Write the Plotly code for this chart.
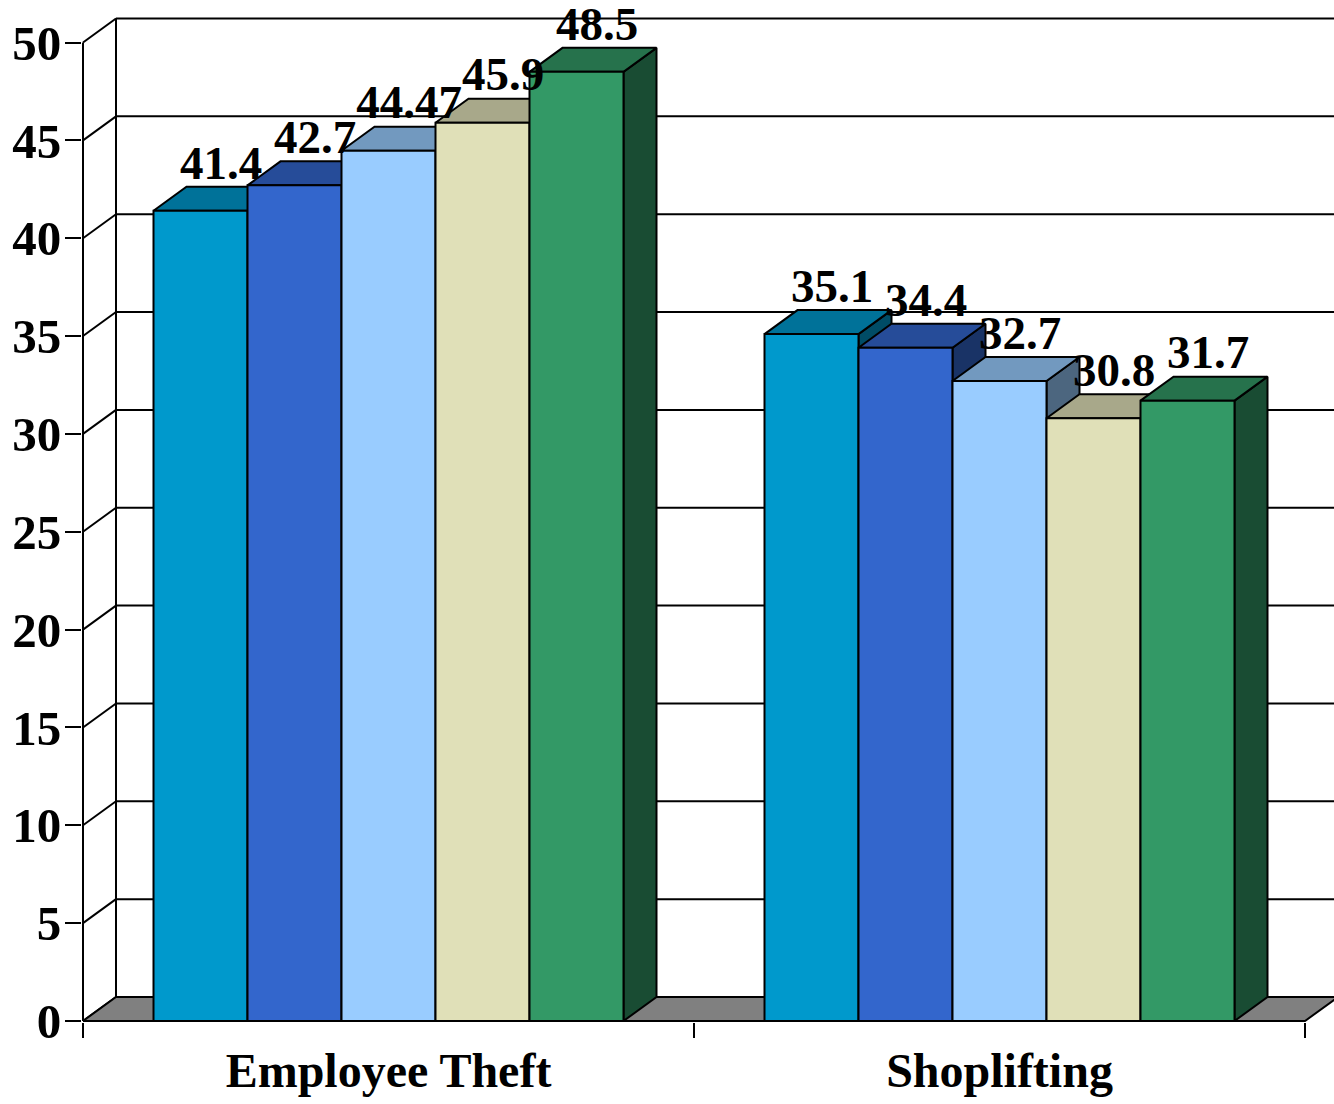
import numpy as np
import plotly.graph_objects as go

# ---- data -------------------------------------------------------------
categories = ["Employee Theft", "Shoplifting"]
series_1 = [41.4, 35.1]
series_2 = [42.7, 34.4]
series_3 = [44.47, 32.7]
series_4 = [45.9, 30.8]
series_5 = [48.5, 31.7]
series = [series_1, series_2, series_3, series_4, series_5]
y_ticks = [0, 5, 10, 15, 20, 25, 30, 35, 40, 45, 50]

# ---- styling ----------------------------------------------------------
front_colors = ["#0099CC", "#3366CC", "#99CCFF", "#E0E0B8", "#339966"]
FONT = "Liberation Serif"
W, H = 1334, 1104
ML, MB = 82, 82                 # left / bottom margins (px)
PX_PER_CAT = 611.0              # pixels per category slot
PX_PER_UNIT = 19.57             # pixels per value unit
DEPTH_X_PX, DEPTH_Y_PX = 33, 24  # oblique depth of the 3-D box
BAR_PX = 94
LABEL_DX_PX, LABEL_DY_PX = 4, 44  # data label offset from the bar's front top

dx = DEPTH_X_PX / PX_PER_CAT
dy = DEPTH_Y_PX / PX_PER_UNIT
bar_w = BAR_PX / PX_PER_CAT
gap = (1 - len(series) * bar_w) / 2
y_max = y_ticks[-1]


def shade(hex_color, f):
    h = hex_color.lstrip("#")
    r, g, b = (int(h[i:i + 2], 16) for i in (0, 2, 4))
    return "rgb({},{},{})".format(int(r * f), int(g * f), int(b * f))


def poly(xs, ys, fill, width=2):
    return go.Scatter(
        x=list(xs) + [xs[0]], y=list(ys) + [ys[0]], mode="lines",
        fill="toself", fillcolor=fill,
        line=dict(color="black", width=width),
        hoverinfo="skip", showlegend=False,
    )


def segments(pairs, width=2):
    xs, ys = [], []
    for (x0, y0), (x1, y1) in pairs:
        xs += [x0, x1, None]
        ys += [y0, y1, None]
    return go.Scatter(x=xs, y=ys, mode="lines",
                      line=dict(color="black", width=width),
                      hoverinfo="skip", showlegend=False)


n_cat = len(categories)
fig = go.Figure()

# back wall gridlines, back wall edge, side wall diagonals, front value axis
fig.add_trace(segments([((dx, v + dy), (n_cat + dx, v + dy)) for v in y_ticks]))
fig.add_trace(segments([((dx, dy), (dx, y_max + dy))]))
fig.add_trace(segments([((0, v), (dx, v + dy)) for v in y_ticks]))
fig.add_trace(segments([((0, 0), (0, y_max))]))

# floor
fig.add_trace(poly([0, n_cat, n_cat + dx, dx], [0, 0, dy, dy], "#808080"))

# 3-D columns: side, top, then front for each bar, left to right
label_x, label_y, label_t = [], [], []
for c in range(n_cat):
    for s, vals in enumerate(series):
        v = vals[c]
        col = front_colors[s]
        x0 = c + gap + s * bar_w
        x1 = x0 + bar_w
        fig.add_trace(poly([x1, x1 + dx, x1 + dx, x1], [0, dy, v + dy, v], shade(col, 0.5)))
        fig.add_trace(poly([x0, x1, x1 + dx, x0 + dx], [v, v, v + dy, v + dy], shade(col, 0.75)))
        fig.add_trace(poly([x0, x1, x1, x0], [0, 0, v, v], col))
        label_x.append((x0 + x1) / 2 + dx / 2 + LABEL_DX_PX / PX_PER_CAT)
        label_y.append(v + LABEL_DY_PX / PX_PER_UNIT)
        label_t.append("{:g}".format(v))

fig.add_trace(go.Scatter(
    x=label_x, y=label_y, text=label_t, mode="text",
    textposition="middle center", cliponaxis=False,
    textfont=dict(family=FONT, size=47, color="black", weight="bold"),
    hoverinfo="skip", showlegend=False,
))

plot_w = W - ML
plot_h = H - MB
fig.update_layout(
    width=W, height=H,
    margin=dict(l=ML, r=0, t=0, b=MB, pad=0),
    paper_bgcolor="white", plot_bgcolor="white",
    showlegend=False,
    xaxis=dict(
        range=[-1 / PX_PER_CAT, (plot_w - 1) / PX_PER_CAT],
        tickvals=[c + 0.5 for c in range(n_cat)],
        ticktext=categories,
        ticks="outside", ticklen=6, tickcolor="rgba(0,0,0,0)",
        tickfont=dict(family=FONT, size=48, color="black", weight="bold"),
        minor=dict(tickvals=list(range(n_cat + 1)), ticks="outside",
                   ticklen=15, tickwidth=2, tickcolor="black", showgrid=False),
        showgrid=False, zeroline=False, showline=False, fixedrange=True,
    ),
    yaxis=dict(
        range=[-1 / PX_PER_UNIT, (plot_h - 1) / PX_PER_UNIT],
        tickvals=y_ticks, ticktext=[str(v) for v in y_ticks],
        ticks="outside", ticklen=16, tickwidth=2, tickcolor="black",
        ticklabelstandoff=-6,
        tickfont=dict(family=FONT, size=49, color="black", weight="bold"),
        showgrid=False, zeroline=False, showline=False, fixedrange=True,
    ),
)

fig.write_html("out.html")
